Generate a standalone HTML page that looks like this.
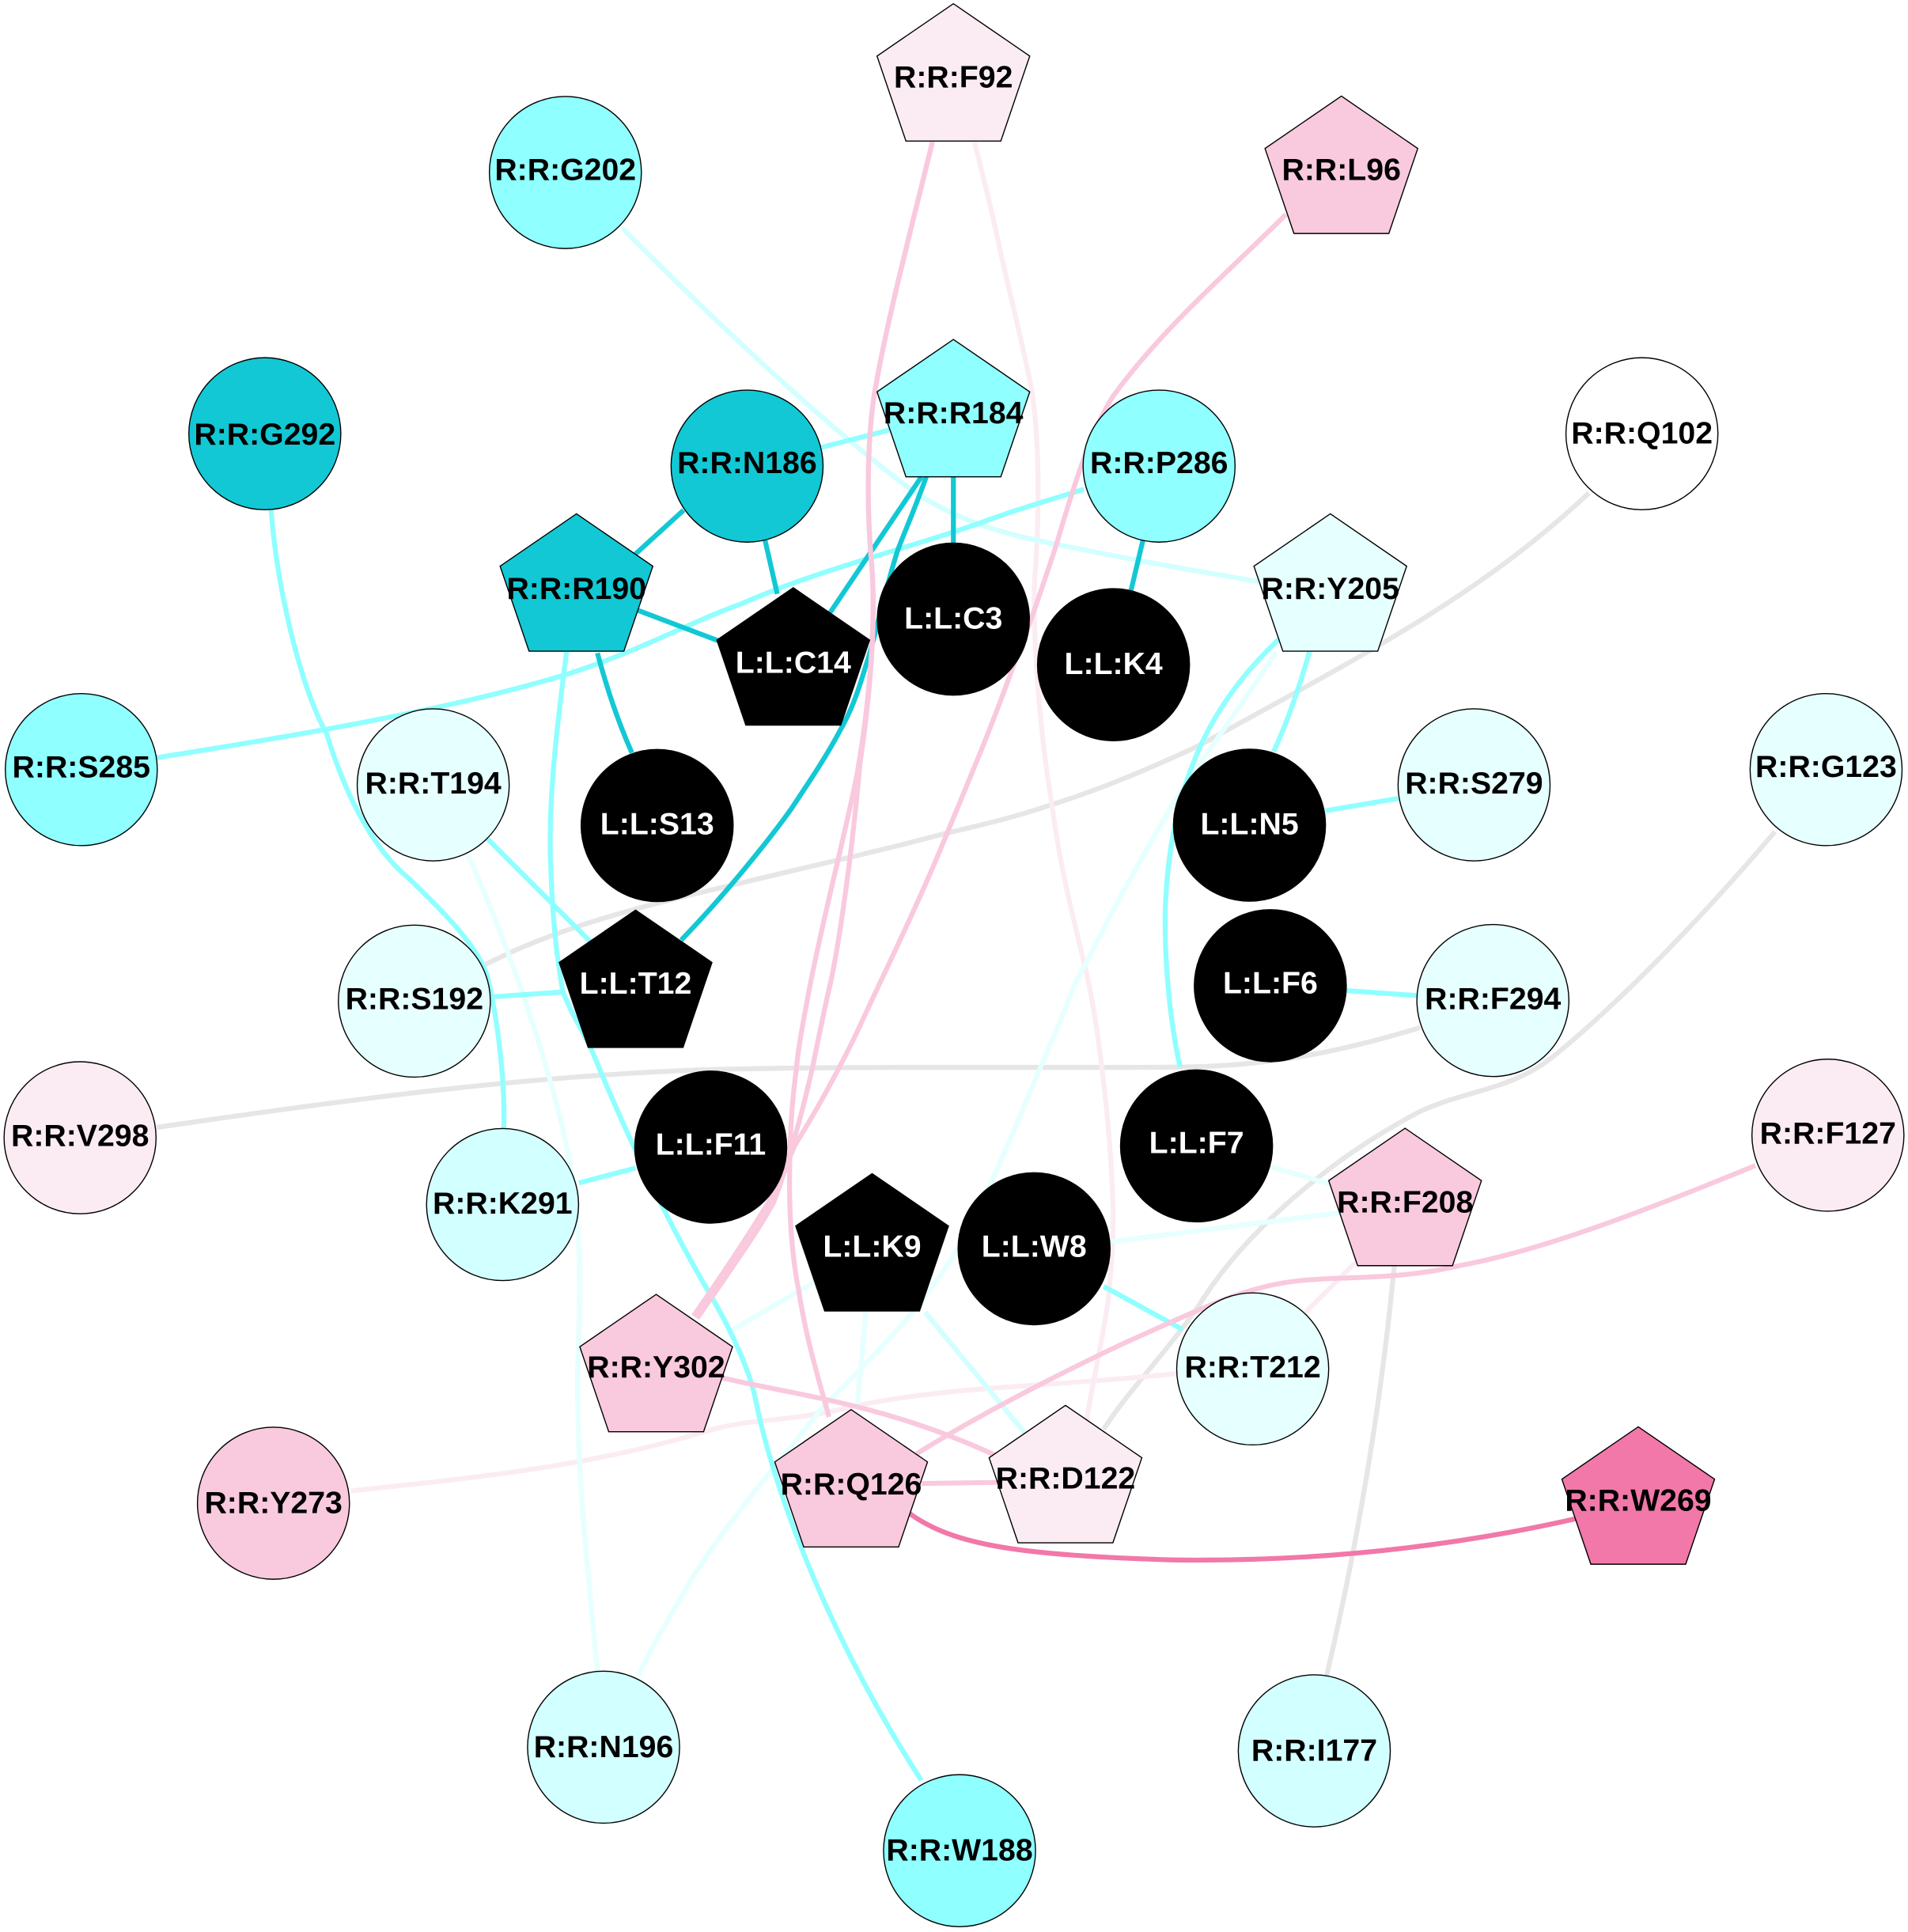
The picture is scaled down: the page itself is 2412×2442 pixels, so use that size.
<!DOCTYPE html>
<html><head><meta charset="utf-8"><style>
html,body{margin:0;padding:0;background:#fff}
svg{display:block}
text{font-family:"Liberation Sans",sans-serif;font-weight:bold;font-size:25.2px;text-anchor:middle}
.w{fill:#fff}
.e path{fill:none;stroke-width:4}
.n circle,.n polygon{stroke:#000;stroke-width:.9}
</style></head><body>
<svg xmlns="http://www.w3.org/2000/svg" width="2412" height="2442" viewBox="0 0 1549 1568" preserveAspectRatio="none">
<rect width="1549" height="1568" fill="#fff"/>
<g class="e">
<g stroke="#e6e6e6">
<path d="M1290,400 C1200,485 1100,535 981,601 C975,604 970,607 963,610 C930,625 895,640 854,653 C825,663 795,670 769,676 C725,688 680,698 642,707 C560,727 465,745 390,785"/>
<path d="M127,915 C300,890 430,873 578,868 C700,865 830,867 960,866 C1040,865 1100,850 1153,834"/>
<path d="M1441,675 C1390,735 1320,810 1259,859 C1225,885 1190,885 1153,902 C1080,940 1010,1000 973,1060 C945,1100 915,1130 896,1160"/>
<path d="M1132,1027 C1125,1100 1110,1220 1077,1360"/>
</g>
<g stroke="#fbecf3">
<path d="M791,115 C800,150 806,175 812,203 C820,240 833,290 838,319 C844,360 844,420 840,470 C838,520 845,600 854,653 C860,700 870,740 880,781 C890,820 900,900 903,963 C905,1000 902,1030 900,1053 C895,1090 887,1120 881,1160"/>
<path d="M1102,1023 C1085,1040 1075,1050 1059,1066 C1030,1100 990,1110 953,1115 C860,1125 770,1125 695,1141 C640,1155 610,1150 572,1162 C480,1190 380,1200 285,1210"/>
</g>
<g stroke="#d2ffff">
<path d="M505,185 C590,270 670,345 739,397 C790,432 840,438 899,450 C940,458 980,465 1022,472"/>
<path d="M751,1065 L832,1163"/>
</g>
<g stroke="#e6ffff">
<path d="M1036,529 C1010,570 980,610 953,651 C930,690 905,735 882,781 C870,800 865,820 858,835 C830,900 805,965 777,1014 C750,1060 710,1100 667,1143 C630,1190 590,1235 560,1284 C545,1310 530,1335 518,1360"/>
<path d="M380,694 C410,760 445,860 460,930 C475,1000 470,1070 469,1110 C468,1200 478,1280 485,1357"/>
<path d="M1032,947 L1080,961"/>
<path d="M900,1008 L1090,984"/>
<path d="M662,1040 L590,1082"/>
<path d="M703,1065 L696,1140"/>
</g>
<g stroke="#8fffff">
<path d="M667,363 L722,349"/>
<path d="M460,529 C452,590 445,650 447,700 C448,730 450,755 452,772 C454,785 455,795 457,805 C465,825 472,835 479,849 C500,900 535,980 575,1048 C600,1090 610,1120 613,1134 C630,1220 680,1340 748,1445"/>
<path d="M127,615 C220,600 360,578 461,547 C520,528 560,505 602,490 C670,460 740,445 805,421 C830,412 855,405 880,397"/>
<path d="M220,413 C225,480 245,560 265,595 C285,660 310,695 332,713 C360,740 385,765 395,790 C405,830 410,880 409,916"/>
<path d="M396,681 L479,764"/>
<path d="M400,809 L457,805"/>
<path d="M470,960 L516,948"/>
<path d="M1063,529 Q1050,575 1034,610"/>
<path d="M1038,519 C995,560 950,620 946,738 C945,780 950,830 958,866"/>
<path d="M1076,658 L1135,648"/>
<path d="M1093,804 L1151,808"/>
<path d="M896,1044 L960,1079"/>
</g>
<g stroke="#12c8d4">
<path d="M774,386 L774,441"/>
<path d="M748,387 L672,500"/>
<path d="M752,387 C740,420 735,430 729,446 C718,480 710,520 703,540 C697,560 692,575 683,591 C672,612 660,630 642,657 C622,685 585,730 553,763"/>
<path d="M555,414 L510,455"/>
<path d="M621,438 L631,482"/>
<path d="M517,495 L583,520"/>
<path d="M485,530 Q497,575 513,611"/>
<path d="M928,438 L918,480"/>
</g>
<g stroke="#f9c9de">
<path d="M757,115 C740,185 720,260 710,319 C705,350 703,400 707,450 C712,500 706,570 696,627 C688,670 668,745 657,803 C652,830 648,850 646.6,867 C642,900 641,930 641,963 C641,1000 645,1030 648,1045 C655,1090 665,1120 673,1150"/>
<path d="M757,115 C740,185 720,260 710,319 C705,350 703,400 707,450 C712,500 707,560 698,621 C693,680 682,765 673,803 C668,825 664,845 659.5,867 C652,900 640,945 628,976 C615,1000 590,1035 566,1070"/>
<path d="M1044,174 C1000,218 945,265 904,321 C885,350 870,400 857,444 C845,480 835,510 824,537 C805,590 790,625 769,676 C745,735 720,785 697,835 C690,850 670,890 645,930 C637,950 633,958 625,974 C608,1002 584,1038 563,1068"/>
<path d="M1425,946 C1330,985 1250,1015 1186,1027 C1130,1040 1090,1035 1050,1040 C1010,1045 980,1060 915,1089 C870,1110 800,1145 744,1180"/>
<path d="M585,1118 C650,1133 720,1140 810,1182"/>
<path d="M748,1204 L817,1203"/>
</g>
<path stroke="#f178a9" d="M738,1228 C775,1255 830,1262 950,1266 C1080,1268 1190,1253 1282,1232"/>
</g>
<g class="n">
<circle cx="459" cy="140" r="61.7" fill="#8fffff"/>
<circle cx="215" cy="352" r="61.7" fill="#12c8d4"/>
<circle cx="606.5" cy="378.3" r="61.7" fill="#12c8d4"/>
<circle cx="941" cy="378.3" r="61.7" fill="#8fffff"/>
<circle cx="1333" cy="352" r="61.7" fill="#ffffff"/>
<circle cx="66" cy="624.6" r="61.7" fill="#8fffff"/>
<circle cx="351.7" cy="637" r="61.7" fill="#e6ffff"/>
<circle cx="533.5" cy="670" r="61.7" fill="#000"/>
<circle cx="774" cy="502.5" r="61.7" fill="#000"/>
<circle cx="904" cy="539.5" r="61.7" fill="#000"/>
<circle cx="1014.4" cy="669.7" r="61.7" fill="#000"/>
<circle cx="1196.7" cy="637" r="61.7" fill="#e6ffff"/>
<circle cx="1482.5" cy="624.6" r="61.7" fill="#e6ffff"/>
<circle cx="1031.3" cy="800" r="61.7" fill="#000"/>
<circle cx="1212" cy="812" r="61.7" fill="#e6ffff"/>
<circle cx="336.4" cy="812.5" r="61.7" fill="#e6ffff"/>
<circle cx="65" cy="923.4" r="61.7" fill="#fbecf3"/>
<circle cx="577" cy="931" r="61.7" fill="#000"/>
<circle cx="971.4" cy="930" r="61.7" fill="#000"/>
<circle cx="408" cy="977.6" r="61.7" fill="#d2ffff"/>
<circle cx="1484" cy="921.3" r="61.7" fill="#fbecf3"/>
<circle cx="839.5" cy="1013.5" r="61.7" fill="#000"/>
<circle cx="1017" cy="1111" r="61.7" fill="#e6ffff"/>
<circle cx="222" cy="1220" r="61.7" fill="#f9c9de"/>
<circle cx="490" cy="1418" r="61.7" fill="#d2ffff"/>
<circle cx="1067" cy="1421" r="61.7" fill="#d2ffff"/>
<circle cx="779" cy="1502" r="61.7" fill="#8fffff"/>
<polygon fill="#fbecf3" points="774,3 836,45.5 812.5,114.5 735.5,114.5 712,45.5"/>
<polygon fill="#f9c9de" points="1089,78 1151,120.5 1127.5,189.5 1050.5,189.5 1027,120.5"/>
<polygon fill="#8fffff" points="774,275.5 836,318 812.5,387 735.5,387 712,318"/>
<polygon fill="#12c8d4" points="468,417 530,459.5 506.5,528.5 429.5,528.5 406,459.5"/>
<polygon fill="#e6ffff" points="1080,417 1142,459.5 1118.5,528.5 1041.5,528.5 1018,459.5"/>
<polygon fill="#000" points="644,477 706,519.5 682.5,588.5 605.5,588.5 582,519.5"/>
<polygon fill="#000" points="516,738.6 578,781.1 554.5,850.1 477.5,850.1 454,781.1"/>
<polygon fill="#f9c9de" points="1140.7,915.7 1202.7,958.2 1179.2,1027.2 1102.2,1027.2 1078.7,958.2"/>
<polygon fill="#000" points="708,952.5 770,995 746.5,1064 669.5,1064 646,995"/>
<polygon fill="#f9c9de" points="532.7,1050.5 594.7,1093 571.2,1162 494.2,1162 470.7,1093"/>
<polygon fill="#f9c9de" points="691,1144 753,1186.5 729.5,1255.5 652.5,1255.5 629,1186.5"/>
<polygon fill="#fbecf3" points="865,1140.6 927,1183.1 903.5,1252.1 826.5,1252.1 803,1183.1"/>
<polygon fill="#f178a9" points="1330,1158 1392,1200.5 1368.5,1269.5 1291.5,1269.5 1268,1200.5"/>
</g>
<g>
<text x="459" y="146">R:R:G202</text>
<text x="215" y="361">R:R:G292</text>
<text x="606.5" y="384">R:R:N186</text>
<text x="941" y="384">R:R:P286</text>
<text x="1333" y="360">R:R:Q102</text>
<text x="66" y="631">R:R:S285</text>
<text x="351.7" y="644">R:R:T194</text>
<text class="w" x="533.5" y="677">L:L:S13</text>
<text class="w" x="774" y="510">L:L:C3</text>
<text class="w" x="904" y="547">L:L:K4</text>
<text class="w" x="1014.4" y="677">L:L:N5</text>
<text x="1196.7" y="644">R:R:S279</text>
<text x="1482.5" y="630.5">R:R:G123</text>
<text class="w" x="1031.3" y="806">L:L:F6</text>
<text x="1212" y="819">R:R:F294</text>
<text x="336.4" y="819">R:R:S192</text>
<text x="65" y="930">R:R:V298</text>
<text class="w" x="577" y="937">L:L:F11</text>
<text class="w" x="971.4" y="936">L:L:F7</text>
<text x="408" y="985">R:R:K291</text>
<text x="1484" y="928">R:R:F127</text>
<text class="w" x="839.5" y="1020">L:L:W8</text>
<text x="1017" y="1118">R:R:T212</text>
<text x="222" y="1228">R:R:Y273</text>
<text x="490" y="1426">R:R:N196</text>
<text x="1067" y="1429">R:R:I177</text>
<text x="779" y="1510">R:R:W188</text>
<text x="774" y="71">R:R:F92</text>
<text x="1089" y="146">R:R:L96</text>
<text x="774" y="343.5">R:R:R184</text>
<text x="468" y="486">R:R:R190</text>
<text x="1080" y="486">R:R:Y205</text>
<text class="w" x="644" y="546">L:L:C14</text>
<text class="w" x="516" y="806.5">L:L:T12</text>
<text x="1140.7" y="984">R:R:F208</text>
<text class="w" x="708" y="1020">L:L:K9</text>
<text x="532.7" y="1118">R:R:Y302</text>
<text x="691" y="1213">R:R:Q126</text>
<text x="865" y="1208">R:R:D122</text>
<text x="1330" y="1226">R:R:W269</text>
</g>
</svg>
</body></html>
